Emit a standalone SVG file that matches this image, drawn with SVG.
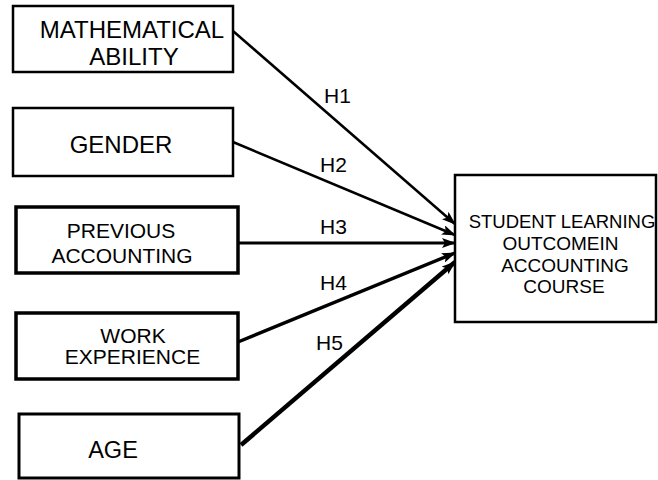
<svg xmlns="http://www.w3.org/2000/svg" width="658" height="480" viewBox="0 0 658 480">
  <style>
    .box { fill: #ffffff; stroke: #000000; }
    .lbl { font-family: "Liberation Sans", Arial, sans-serif; fill: #000000; text-anchor: middle; }
    .hl { font-family: "Liberation Sans", Arial, sans-serif; fill: #000000; font-size: 21px; }
    .conn { stroke: #000000; fill: none; marker-end: url(#arr); }
  </style>
  <defs>
    <marker id="arr" markerUnits="userSpaceOnUse" markerWidth="14" markerHeight="10" refX="13" refY="5" orient="auto">
      <path d="M0,0 L14,5 L0,10 L3,5 Z" fill="#000000"/>
    </marker>
  </defs>
  <rect width="658" height="480" fill="#ffffff"/>

  <g id="connectors">
    <line class="conn" x1="233" y1="31" x2="455" y2="224" stroke-width="2.5"/>
    <line class="conn" x1="233" y1="142" x2="455" y2="235" stroke-width="2.5"/>
    <line class="conn" x1="238" y1="243" x2="455" y2="243" stroke-width="3"/>
    <line class="conn" x1="238" y1="342" x2="455" y2="253" stroke-width="3.5"/>
    <line class="conn" x1="241" y1="445" x2="455" y2="262" stroke-width="4.5"/>
    <text class="hl" x="324" y="103">H1</text>
    <text class="hl" x="320" y="172">H2</text>
    <text class="hl" x="320" y="234">H3</text>
    <text class="hl" x="320" y="290">H4</text>
    <text class="hl" x="316" y="350">H5</text>
  </g>

  <g id="math">
    <rect class="box" x="13" y="6" width="220" height="66" stroke-width="2.5"/>
    <text class="lbl" font-size="24" x="132" y="37.5">MATHEMATICAL</text>
    <text class="lbl" font-size="24" x="134" y="65">ABILITY</text>
  </g>

  <g id="gender">
    <rect class="box" x="13" y="108" width="220" height="68" stroke-width="2.5"/>
    <text class="lbl" font-size="24" x="121" y="153">GENDER</text>
  </g>

  <g id="prev">
    <rect class="box" x="16" y="207" width="222" height="66" stroke-width="3.5"/>
    <text class="lbl" font-size="21" x="121" y="238">PREVIOUS</text>
    <text class="lbl" font-size="21" x="122" y="263">ACCOUNTING</text>
  </g>

  <g id="work">
    <rect class="box" x="16" y="313" width="222" height="66" stroke-width="3.5"/>
    <text class="lbl" font-size="21" x="133" y="342.5">WORK</text>
    <text class="lbl" font-size="21" x="132.5" y="364">EXPERIENCE</text>
  </g>

  <g id="age">
    <rect class="box" x="19" y="414" width="220" height="64" stroke-width="3"/>
    <text class="lbl" font-size="23.5" x="113" y="457.5">AGE</text>
  </g>

  <g id="outcome">
    <rect class="box" x="455" y="175" width="201" height="147" stroke-width="2.5"/>
    <text class="lbl" font-size="18.5" x="562" y="227.5">STUDENT LEARNING</text>
    <text class="lbl" font-size="19" x="560.5" y="250">OUTCOMEIN</text>
    <text class="lbl" font-size="19" x="565" y="271.5">ACCOUNTING</text>
    <text class="lbl" font-size="19" x="564" y="292.5">COURSE</text>
  </g>
</svg>
